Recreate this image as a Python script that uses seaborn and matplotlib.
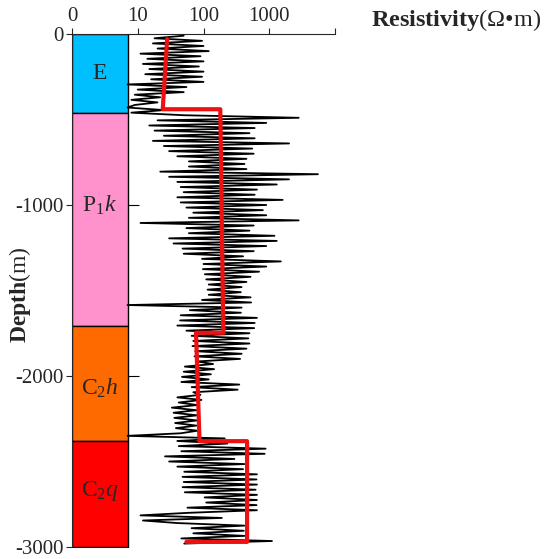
import numpy as np
import matplotlib
matplotlib.use("Agg")
import matplotlib.pyplot as plt
import seaborn as sns

# Resistivity log (ohm*m), one reading every 15 m from 10 m down to 2980 m
depth = -np.arange(10, 2981, 15)
resistivity = [
    50, 18, 95, 17, 100, 20, 120, 11, 90, 14,          # 10-145
    100, 12, 85, 15, 100, 13, 95, 16, 100, 7,          # 160-295
    55, 10, 50, 9, 22, 8, 20, 9, 7, 25,                # 310-445
    8, 50, 2800, 20, 900, 15, 600, 18, 500, 25,        # 460-595
    600, 17, 2000, 25, 550, 30, 580, 40, 450, 60,      # 610-745
    420, 60, 450, 22, 5500, 30, 2000, 40, 1300, 45,    # 760-895
    650, 50, 600, 40, 1600, 45, 900, 55, 800, 70,      # 910-1045
    900, 60, 2800, 11, 580, 55, 500, 60, 1200, 30,     # 1060-1195
    1300, 35, 900, 48, 580, 50, 400, 95, 1500, 100,    # 1210-1345
    900, 98, 700, 105, 520, 110, 450, 120, 380, 115,   # 1360-1495
    370, 120, 520, 95, 530, 7, 380, 62, 370, 45,       # 1510-1645
    650, 44, 600, 40, 590, 55, 500, 66, 480, 70,       # 1660-1795
    500, 68, 450, 75, 380, 73, 360, 80, 140, 52,       # 1810-1945
    145, 50, 130, 47, 120, 46, 350, 66, 330, 70,       # 1960-2095
    90, 40, 93, 42, 80, 33, 78, 35, 80, 36,            # 2110-2245
    80, 37, 78, 38, 81, 45, 7, 210, 40, 230,           # 2260-2395
    42, 880, 46, 850, 26, 295, 30, 418, 40, 400,       # 2410-2545
    51, 650, 48, 640, 50, 650, 48, 620, 52, 650,       # 2560-2695
    104, 650, 110, 640, 57, 650, 60, 11, 190, 12,      # 2710-2845
    40, 418, 66, 410, 70, 418, 46, 1100, 51,           # 2860-2980
]
assert len(resistivity) == len(depth)

# Averaged resistivity per formation (red step line)
avg_depth = [-30, -440, -440, -1747, -1747, -2381, -2381, -2970, -2970]
avg_res = [28, 24, 180, 200, 77, 87, 460, 460, 55]

# Stratigraphic column
units = ["E", r"P$_1$$\mathit{k}$", r"C$_2$$\mathit{h}$", r"C$_2$$\mathit{q}$"]
unit_top = [0, -464, -1708, -2378]
unit_bottom = [-464, -1708, -2378, -3000]
unit_label_depth = [-232, -1000, -2070, -2670]
unit_colors = ["#00bfff", "#ff91cc", "#ff6a00", "#ff0000"]

depth_ticks = [0, -1000, -2000, -3000]
res_ticks = [1, 10, 100, 1000, 10000]
res_tick_labels = ["0", "10", "100", "1000", ""]

sns.set_style("ticks")
plt.rcParams["font.family"] = ["Liberation Serif", "DejaVu Serif"]
plt.rcParams["mathtext.fontset"] = "custom"
plt.rcParams["mathtext.rm"] = "Liberation Serif"
plt.rcParams["mathtext.it"] = "Liberation Serif:italic"
plt.rcParams["mathtext.bf"] = "Liberation Serif:bold"

fig = plt.figure(figsize=(5.5, 5.59), dpi=100)
ax = fig.add_axes([72 / 550, 1 - 547 / 559, 263 / 550, 513 / 559])
ax.set_xscale("log")

# formation column
for name, top, bot, yl, col in zip(units, unit_top, unit_bottom, unit_label_depth, unit_colors):
    ax.fill_betweenx([bot, top], 1, 7.1, color=col, ec="black", lw=1.0, zorder=2)
    ax.text(np.sqrt(7.1), yl, name, ha="center", va="center", fontsize=17, zorder=3)

sns.lineplot(x=resistivity, y=depth, orient="y", sort=False, estimator=None,
             color="black", lw=1.3, ax=ax, zorder=4)
sns.lineplot(x=avg_res, y=avg_depth, orient="y", sort=False, estimator=None,
             color="#ee1111", lw=3.0, ax=ax, zorder=5)

# small ticks on the right side of the column
ax.hlines(depth_ticks[1:3], 7.1, 10.5, color="black", lw=0.8, zorder=3)

ax.set_xlim(1, 10000)
ax.set_ylim(-3000, 0)
ax.xaxis.set_ticks_position("top")
ax.set_xticks(res_ticks)
ax.set_xticklabels(res_tick_labels)
ax.xaxis.set_minor_locator(matplotlib.ticker.NullLocator())
ax.set_yticks(depth_ticks)
ax.set_yticklabels([str(d) for d in depth_ticks])
ax.tick_params(axis="both", direction="out", length=4, width=0.8, labelsize=15, pad=2)
for side in ["right", "bottom"]:
    ax.spines[side].set_visible(False)
for side in ["top", "left"]:
    ax.spines[side].set_linewidth(0.8)

ax.set_xlabel("")
ax.set_ylabel("")
fig.text(20 / 550, 1 - 295 / 559, r"$\mathbf{Depth}$(m)", fontsize=17,
         rotation=90, ha="center", va="center")
fig.text(371 / 550, 1 - 20 / 559, r"$\mathbf{Resistivity}$" + "(\u03a9\u2022m)",
         fontsize=17.5, ha="left", va="center")

fig.savefig("out.png", dpi=100)
